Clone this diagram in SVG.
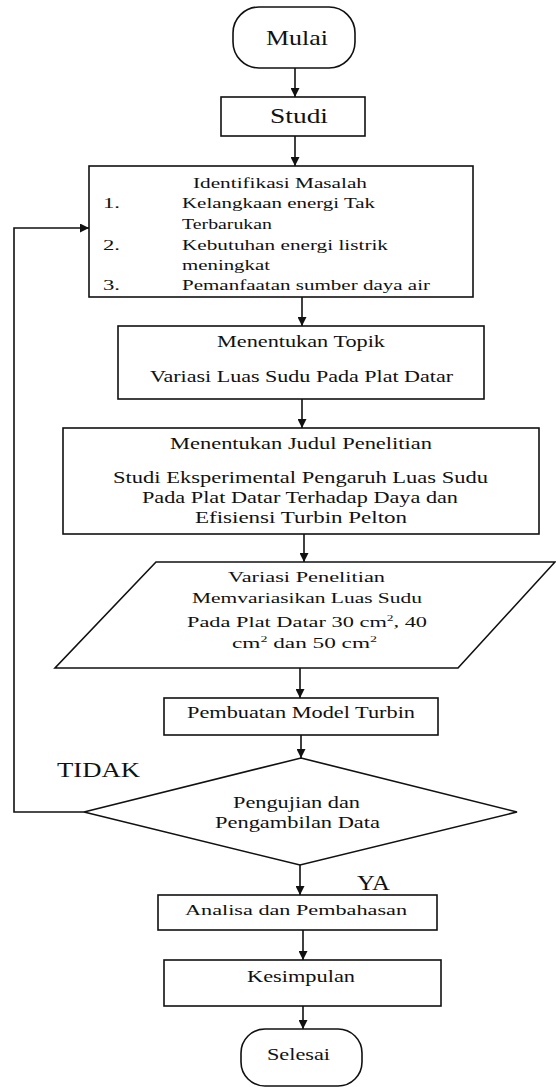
<svg xmlns="http://www.w3.org/2000/svg" width="556" height="1087" viewBox="0 0 556 1087">
<style>
.s{fill:#fff;stroke:#111;stroke-width:1.6}
.c{fill:none;stroke:#111;stroke-width:1.6}
text{fill:#111}
</style>
<defs>
<marker id="ah" viewBox="0 0 10 10" refX="10" refY="5" markerWidth="9" markerHeight="9" markerUnits="userSpaceOnUse" orient="auto">
<path d="M0,0 L10,5 L0,10 z" fill="#111"/>
</marker>
<clipPath id="clipIdent"><rect x="89" y="166" width="384" height="130"/></clipPath>
</defs>
<g id="connectors">
<line class="c" x1="295" y1="68" x2="295" y2="97" marker-end="url(#ah)"/>
<line class="c" x1="295" y1="136" x2="295" y2="166" marker-end="url(#ah)"/>
<line class="c" x1="302" y1="297" x2="302" y2="326" marker-end="url(#ah)"/>
<line class="c" x1="302" y1="399" x2="302" y2="428" marker-end="url(#ah)"/>
<line class="c" x1="304" y1="534" x2="304" y2="562" marker-end="url(#ah)"/>
<line class="c" x1="300" y1="668" x2="300" y2="698" marker-end="url(#ah)"/>
<line class="c" x1="301" y1="735" x2="301" y2="758" marker-end="url(#ah)"/>
<line class="c" x1="300" y1="865" x2="300" y2="895" marker-end="url(#ah)"/>
<line class="c" x1="303" y1="930" x2="303" y2="960" marker-end="url(#ah)"/>
<line class="c" x1="303" y1="1006" x2="303" y2="1029" marker-end="url(#ah)"/>
<polyline class="c" points="84,812 14,812 14,228 89,228" marker-end="url(#ah)"/>
<text font-family="Liberation Serif, Times New Roman, Times, DejaVu Serif, serif" x="57" y="777" font-size="21" textLength="83" lengthAdjust="spacingAndGlyphs">TIDAK</text>
<text font-family="Liberation Serif, Times New Roman, Times, DejaVu Serif, serif" x="357" y="890" font-size="21" textLength="33" lengthAdjust="spacingAndGlyphs">YA</text>
</g>
<g id="mulai">
<rect class="s" x="233" y="7" width="122" height="61" rx="26"/>
<text font-family="Liberation Serif, Times New Roman, Times, DejaVu Serif, serif" x="266" y="45" font-size="21" textLength="62" lengthAdjust="spacingAndGlyphs">Mulai</text>
</g>
<g id="studi">
<rect class="s" x="221" y="97" width="144" height="39"/>
<text font-family="Liberation Serif, Times New Roman, Times, DejaVu Serif, serif" x="270" y="123" font-size="21" textLength="58" lengthAdjust="spacingAndGlyphs">Studi</text>
</g>
<g id="identifikasi" font-family="Liberation Serif, Times New Roman, Times, DejaVu Serif, serif" font-size="15">
<rect class="s" x="89" y="166" width="384" height="131"/>
<text x="193" y="188" textLength="174" lengthAdjust="spacingAndGlyphs">Identifikasi Masalah</text>
<text x="103" y="208" textLength="17" lengthAdjust="spacingAndGlyphs">1.</text>
<text x="182" y="208" textLength="193" lengthAdjust="spacingAndGlyphs">Kelangkaan energi Tak</text>
<text x="182" y="229" textLength="90" lengthAdjust="spacingAndGlyphs">Terbarukan</text>
<text x="103" y="250" textLength="17" lengthAdjust="spacingAndGlyphs">2.</text>
<text x="182" y="250" textLength="206" lengthAdjust="spacingAndGlyphs">Kebutuhan energi listrik</text>
<text x="182" y="270" textLength="88" lengthAdjust="spacingAndGlyphs">meningkat</text>
<text x="103" y="290" textLength="17" lengthAdjust="spacingAndGlyphs">3.</text>
<text x="182" y="290" textLength="248" lengthAdjust="spacingAndGlyphs" clip-path="url(#clipIdent)">Pemanfaatan sumber daya air</text>
</g>
<g id="topik" font-family="Liberation Serif, Times New Roman, Times, DejaVu Serif, serif" font-size="16">
<rect class="s" x="118" y="326" width="366" height="73"/>
<text x="217" y="347" textLength="168" lengthAdjust="spacingAndGlyphs">Menentukan Topik</text>
<text x="150" y="382" textLength="303" lengthAdjust="spacingAndGlyphs">Variasi Luas Sudu Pada Plat Datar</text>
</g>
<g id="judul" font-family="Liberation Serif, Times New Roman, Times, DejaVu Serif, serif" font-size="16">
<rect class="s" x="63" y="428" width="476" height="106"/>
<text x="170" y="449" textLength="262" lengthAdjust="spacingAndGlyphs">Menentukan Judul Penelitian</text>
<text x="113" y="483" font-size="17" textLength="375" lengthAdjust="spacingAndGlyphs">Studi Eksperimental Pengaruh Luas Sudu</text>
<text x="142" y="503" textLength="316" lengthAdjust="spacingAndGlyphs">Pada Plat Datar Terhadap Daya dan</text>
<text x="195" y="523" textLength="212" lengthAdjust="spacingAndGlyphs">Efisiensi Turbin Pelton</text>
</g>
<g id="variasi" font-family="Liberation Serif, Times New Roman, Times, DejaVu Serif, serif" font-size="15">
<polygon class="s" points="156,562 555,562 458,668 55,668"/>
<text x="228" y="582" textLength="157" lengthAdjust="spacingAndGlyphs">Variasi Penelitian</text>
<text x="192" y="603" font-size="14" textLength="230" lengthAdjust="spacingAndGlyphs" fill="#333">Memvariasikan  Luas  Sudu</text>
<text x="187" y="627" textLength="240" lengthAdjust="spacingAndGlyphs">Pada  Plat  Datar  30 cm<tspan dy="-6" font-size="9">2</tspan><tspan dy="6">, 40</tspan></text>
<text x="232" y="648" textLength="145" lengthAdjust="spacingAndGlyphs">cm<tspan dy="-6" font-size="9">2</tspan><tspan dy="6"> dan 50 cm</tspan><tspan dy="-6" font-size="9">2</tspan></text>
</g>
<g id="pembuatan" font-family="Liberation Serif, Times New Roman, Times, DejaVu Serif, serif" font-size="16">
<rect class="s" x="164" y="698" width="274" height="37"/>
<text x="187" y="718" textLength="228" lengthAdjust="spacingAndGlyphs">Pembuatan Model Turbin</text>
</g>
<g id="pengujian" font-family="Liberation Serif, Times New Roman, Times, DejaVu Serif, serif" font-size="16">
<polygon class="s" points="301,758 517,812 300,865 84,812"/>
<text x="233" y="808" textLength="127" lengthAdjust="spacingAndGlyphs">Pengujian dan</text>
<text x="215" y="828" textLength="165" lengthAdjust="spacingAndGlyphs">Pengambilan Data</text>
</g>
<g id="analisa" font-family="Liberation Serif, Times New Roman, Times, DejaVu Serif, serif" font-size="15">
<rect class="s" x="158" y="895" width="279" height="35"/>
<text x="185" y="915" textLength="222" lengthAdjust="spacingAndGlyphs">Analisa dan Pembahasan</text>
</g>
<g id="kesimpulan" font-family="Liberation Serif, Times New Roman, Times, DejaVu Serif, serif" font-size="17">
<rect class="s" x="164" y="960" width="277" height="46"/>
<text x="247" y="982" textLength="108" lengthAdjust="spacingAndGlyphs">Kesimpulan</text>
</g>
<g id="selesai" font-family="Liberation Serif, Times New Roman, Times, DejaVu Serif, serif" font-size="17">
<rect class="s" x="241" y="1029" width="121" height="57" rx="24"/>
<text x="267" y="1060" textLength="63" lengthAdjust="spacingAndGlyphs">Selesai</text>
</g>
</svg>
